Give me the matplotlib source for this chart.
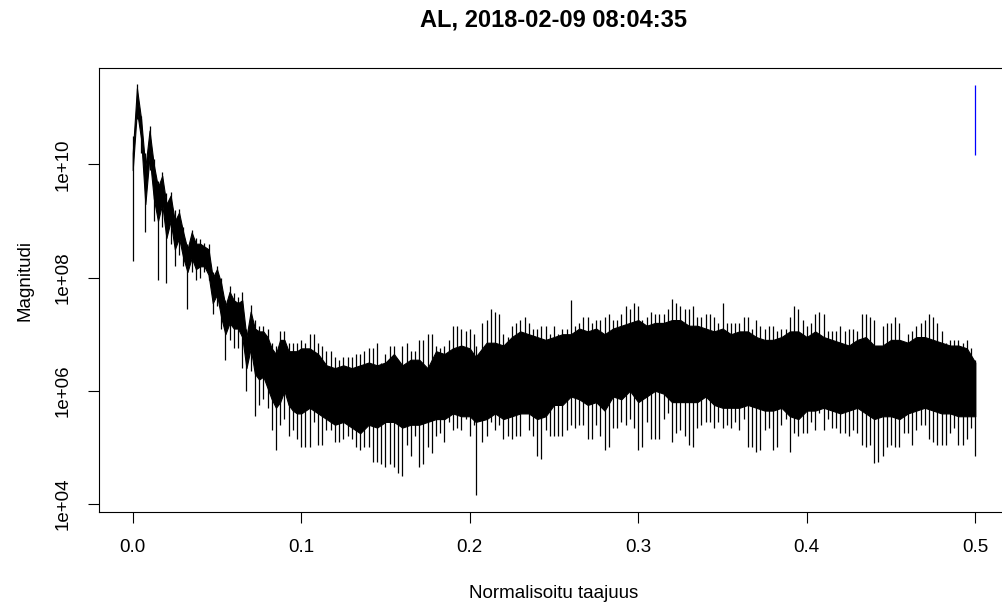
import numpy as np
import matplotlib
matplotlib.use("Agg")
import matplotlib.pyplot as plt

# -----------------------------
# Data (log10 magnitude)
# -----------------------------
freq = [0.0, 0.0025, 0.005, 0.0075, 0.010, 0.0125, 0.015, 0.0175, 0.020, 0.0225,
        0.025, 0.0275, 0.030, 0.0325, 0.035, 0.0375, 0.040, 0.0425, 0.045, 0.0475,
        0.050, 0.0525, 0.055, 0.0575, 0.060, 0.0625, 0.065, 0.0675, 0.070, 0.0725,
        0.075, 0.0775, 0.080, 0.0825, 0.085, 0.0875, 0.090, 0.0925, 0.095, 0.0975,
        0.100, 0.105, 0.110, 0.115, 0.120, 0.125, 0.130, 0.135, 0.140, 0.145,
        0.150, 0.155, 0.160, 0.165, 0.170, 0.175, 0.180, 0.185, 0.190, 0.195,
        0.200, 0.2035, 0.210, 0.215, 0.220, 0.225, 0.230, 0.235, 0.240, 0.245,
        0.250, 0.255, 0.260, 0.265, 0.270, 0.275, 0.280, 0.285, 0.290, 0.295,
        0.300, 0.305, 0.310, 0.315, 0.320, 0.325, 0.330, 0.335, 0.340, 0.345,
        0.350, 0.355, 0.360, 0.365, 0.370, 0.375, 0.380, 0.385, 0.390, 0.395,
        0.400, 0.405, 0.410, 0.415, 0.420, 0.425, 0.430, 0.435, 0.440, 0.445,
        0.450, 0.455, 0.460, 0.465, 0.470, 0.475, 0.480, 0.485, 0.490, 0.495,
        0.500]

core_hi = [10.2, 11.35, 10.8, 9.95, 10.6, 10.0, 9.6, 9.8, 9.3, 9.45,
           9.0, 9.15, 8.8, 8.5, 8.8, 8.6, 8.6, 8.55, 8.5, 8.0,
           8.15, 7.9, 7.5, 7.75, 7.6, 7.55, 7.6, 6.95, 7.4, 7.1,
           7.05, 7.05, 6.95, 6.75, 6.65, 6.9, 6.9, 6.7, 6.7, 6.7,
           6.75, 6.75, 6.65, 6.45, 6.4, 6.45, 6.4, 6.45, 6.5, 6.45,
           6.5, 6.65, 6.45, 6.55, 6.55, 6.4, 6.7, 6.65, 6.75, 6.8,
           6.75, 6.6, 6.85, 6.85, 6.8, 6.95, 7.05, 7.0, 6.95, 6.9,
           6.95, 7.0, 7.0, 7.1, 7.05, 7.1, 7.0, 7.1, 7.15, 7.2,
           7.25, 7.15, 7.2, 7.2, 7.25, 7.25, 7.15, 7.15, 7.1, 7.05,
           7.1, 7.0, 7.05, 7.05, 6.95, 6.9, 6.9, 6.95, 7.05, 7.05,
           6.95, 7.05, 6.95, 6.9, 6.85, 6.8, 6.9, 6.95, 6.8, 6.8,
           6.9, 6.9, 6.85, 6.95, 6.95, 6.9, 6.85, 6.8, 6.8, 6.75,
           6.5]

core_lo = [9.9, 10.95, 10.45, 9.3, 10.15, 9.4, 9.0, 9.3, 8.7, 9.0,
           8.5, 8.7, 8.35, 8.1, 8.35, 8.15, 8.2, 8.2, 8.05, 7.55,
           7.7, 7.3, 7.0, 7.2, 7.1, 7.1, 6.95, 6.4, 6.75, 6.3,
           6.2, 6.25, 6.05, 5.85, 5.7, 5.8, 6.0, 5.75, 5.65, 5.6,
           5.6, 5.7, 5.6, 5.5, 5.4, 5.45, 5.35, 5.25, 5.4, 5.35,
           5.45, 5.45, 5.35, 5.4, 5.4, 5.45, 5.5, 5.5, 5.6, 5.55,
           5.55, 5.45, 5.5, 5.6, 5.5, 5.55, 5.6, 5.6, 5.5, 5.55,
           5.75, 5.75, 5.9, 5.85, 5.75, 5.8, 5.65, 5.9, 5.85, 6.0,
           5.8, 5.9, 6.0, 5.95, 5.8, 5.8, 5.8, 5.8, 5.9, 5.75,
           5.7, 5.7, 5.7, 5.75, 5.7, 5.65, 5.65, 5.7, 5.55, 5.5,
           5.65, 5.65, 5.7, 5.65, 5.6, 5.65, 5.7, 5.6, 5.5, 5.55,
           5.55, 5.5, 5.6, 5.65, 5.7, 5.65, 5.6, 5.6, 5.55, 5.55,
           5.55]

spike_hi = [10.5, 11.42, 10.85, 10.2, 10.68, 10.1, 9.7, 9.87, 9.5, 9.52,
            9.2, 9.22, 8.9, 8.6, 8.85, 8.7, 8.68, 8.62, 8.6, 8.1,
            8.2, 8.0, 7.6, 7.85, 7.72, 7.65, 7.75, 7.1, 7.52, 7.25,
            7.15, 7.15, 7.1, 6.85, 6.8, 7.05, 7.05, 6.85, 6.85, 6.85,
            6.9, 7.0, 6.85, 6.7, 6.6, 6.6, 6.6, 6.65, 6.75, 6.85,
            6.65, 6.8, 6.8, 6.7, 6.9, 7.0, 6.8, 6.8, 7.15, 7.1,
            7.1, 6.8, 7.25, 7.4, 7.0, 7.15, 7.25, 7.2, 7.1, 7.15,
            7.15, 7.1, 7.6, 7.2, 7.3, 7.25, 7.3, 7.25, 7.35, 7.45,
            7.5, 7.3, 7.35, 7.35, 7.63, 7.5, 7.45, 7.3, 7.35, 7.3,
            7.55, 7.2, 7.2, 7.3, 7.25, 7.1, 7.15, 7.1, 7.3, 7.45,
            7.15, 7.35, 7.35, 7.05, 7.15, 7.1, 7.05, 7.35, 7.25, 7.15,
            7.2, 7.2, 7.0, 7.15, 7.25, 7.3, 7.05, 6.9, 6.9, 6.9,
            6.55]

spike_lo = [8.3, 10.8, 10.2, 8.8, 9.9, 9.0, 7.95, 8.9, 7.9, 8.6,
            8.2, 8.4, 8.2, 7.45, 8.1, 7.95, 8.0, 8.1, 7.95, 7.35,
            7.5, 7.1, 6.55, 6.9, 6.75, 6.75, 6.4, 6.0, 6.35, 5.55,
            5.75, 5.85, 5.7, 5.3, 4.95, 5.4, 5.5, 5.2, 5.3, 5.15,
            5.0, 5.0, 5.05, 5.3, 5.1, 5.15, 5.15, 4.95, 5.0, 4.75,
            4.65, 4.65, 4.5, 4.85, 4.65, 5.0, 5.2, 5.1, 5.3, 5.3,
            5.2, 4.16, 5.2, 5.3, 5.15, 5.15, 5.2, 5.3, 4.85, 5.3,
            5.2, 5.2, 5.4, 5.4, 5.15, 5.4, 4.95, 5.35, 5.45, 5.5,
            4.95, 5.45, 5.15, 5.5, 5.1, 5.3, 5.05, 5.35, 5.45, 5.35,
            5.35, 5.35, 5.3, 5.0, 4.92, 5.3, 4.95, 5.4, 4.92, 5.2,
            5.25, 5.3, 5.3, 5.35, 5.25, 5.2, 5.25, 5.0, 4.73, 4.85,
            5.05, 5.0, 5.25, 5.3, 5.4, 5.1, 5.05, 5.25, 5.05, 5.15,
            4.85]

# extra hairs between the grid points above (0.1025 ... 0.4975)
mid_freq = np.arange(0.1025, 0.5, 0.005)

mid_hi = [6.85, 7.0, 6.8, 6.7, 6.55, 6.6, 6.65, 6.7, 6.75, 6.5, 6.8, 6.55, 6.85, 6.7, 6.9, 7.0,
          6.75, 6.9, 7.15, 7.05, 7.0, 7.2, 7.45, 7.35, 6.95, 7.2, 7.3, 7.1, 7.15, 7.0, 7.0, 7.1, 7.15,
          7.3, 7.2, 7.25, 7.35, 7.25, 7.5, 7.55, 7.25, 7.4, 7.35, 7.45, 7.55, 7.45, 7.5, 7.3, 7.35, 7.2,
          7.2, 7.2, 7.3, 7.1, 7.15, 7.15, 7.05, 7.1, 7.5, 7.25, 7.2, 7.4, 7.05, 7.05, 7.05, 7.1,
          7.35, 7.3, 6.8, 7.2, 7.3, 6.8, 7.05, 7.2, 7.35, 7.2, 6.85, 6.9, 6.85, 6.75]

mid_lo = [5.0, 5.45, 5.05, 5.3, 5.1, 5.2, 5.0, 5.0, 4.75, 4.7, 4.7, 4.55, 5.05, 5.2, 4.7, 4.9,
          5.25, 5.45, 5.35, 5.5, 5.4, 5.1, 5.45, 5.4, 5.2, 5.2, 5.6, 5.2, 4.8, 5.2, 5.2, 5.3, 5.35,
          5.4, 5.15, 5.2, 5.0, 5.35, 5.4, 5.35, 5.0, 5.15, 5.15, 5.6, 5.25, 5.2, 5.0, 5.4, 5.45, 5.45,
          5.4, 5.45, 5.5, 5.0, 4.95, 5.35, 5.0, 5.5, 5.25, 5.25, 5.45, 5.6, 5.5, 5.35, 5.25, 5.3,
          5.05, 5.05, 4.75, 5.0, 5.0, 5.25, 5.05, 5.4, 5.15, 5.05, 5.05, 5.35, 5.05, 5.35]

# blue marker segment at the right edge
marker_f = 0.5
marker_lo = 10.17
marker_hi = 11.40

x_ticks = [0.0, 0.1, 0.2, 0.3, 0.4, 0.5]
y_ticks = [1e4, 1e6, 1e8, 1e10]
y_labels = ["1e+04", "1e+06", "1e+08", "1e+10"]

# -----------------------------
# Figure
# -----------------------------
plt.rcParams["font.family"] = ["Liberation Sans", "DejaVu Sans"]

fig = plt.figure(figsize=(10.03, 6.05), dpi=100)
ax = fig.add_axes([99 / 1003, 93 / 605, 910 / 1003, 444 / 605])

f = np.array(freq)
ax.fill_between(f, 10 ** np.array(core_lo), 10 ** np.array(core_hi),
                color="black", lw=0.8)
ax.vlines(f, 10 ** np.array(spike_lo), 10 ** np.array(spike_hi),
          color="black", lw=0.9)
ax.vlines(mid_freq, 10 ** np.array(mid_lo), 10 ** np.array(mid_hi),
          color="black", lw=0.9)
ax.vlines(marker_f, 10 ** marker_lo, 10 ** marker_hi, color="blue", lw=0.9)

ax.set_yscale("log")
ax.set_xlim(-0.02, 0.52)
ax.set_ylim(10 ** 3.858, 10 ** 11.705)

ax.set_xticks(x_ticks)
ax.set_xticklabels([f"{t:.1f}" for t in x_ticks])
ax.set_yticks(y_ticks)
ax.set_yticklabels(y_labels, rotation=90, va="center")
ax.minorticks_off()
ax.tick_params(length=8, width=0.8, labelsize=13.5, pad=11.5)

for s in ax.spines.values():
    s.set_linewidth(0.8)

ax.set_xlabel("Normalisoitu taajuus", fontsize=13.5)
ax.xaxis.set_label_coords(0.5, -0.165)
ax.xaxis.label.set_va("top")
ax.set_ylabel("Magnitudi", fontsize=13.5)
ax.yaxis.set_label_coords(-0.0813, 0.5225)
ax.yaxis.label.set_va("center")

fig.text(554 / 1003, 1 - 20 / 605, "AL, 2018-02-09 08:04:35",
         ha="center", va="center", fontsize=17, fontweight="bold")

fig.savefig("out.png", dpi=100)
